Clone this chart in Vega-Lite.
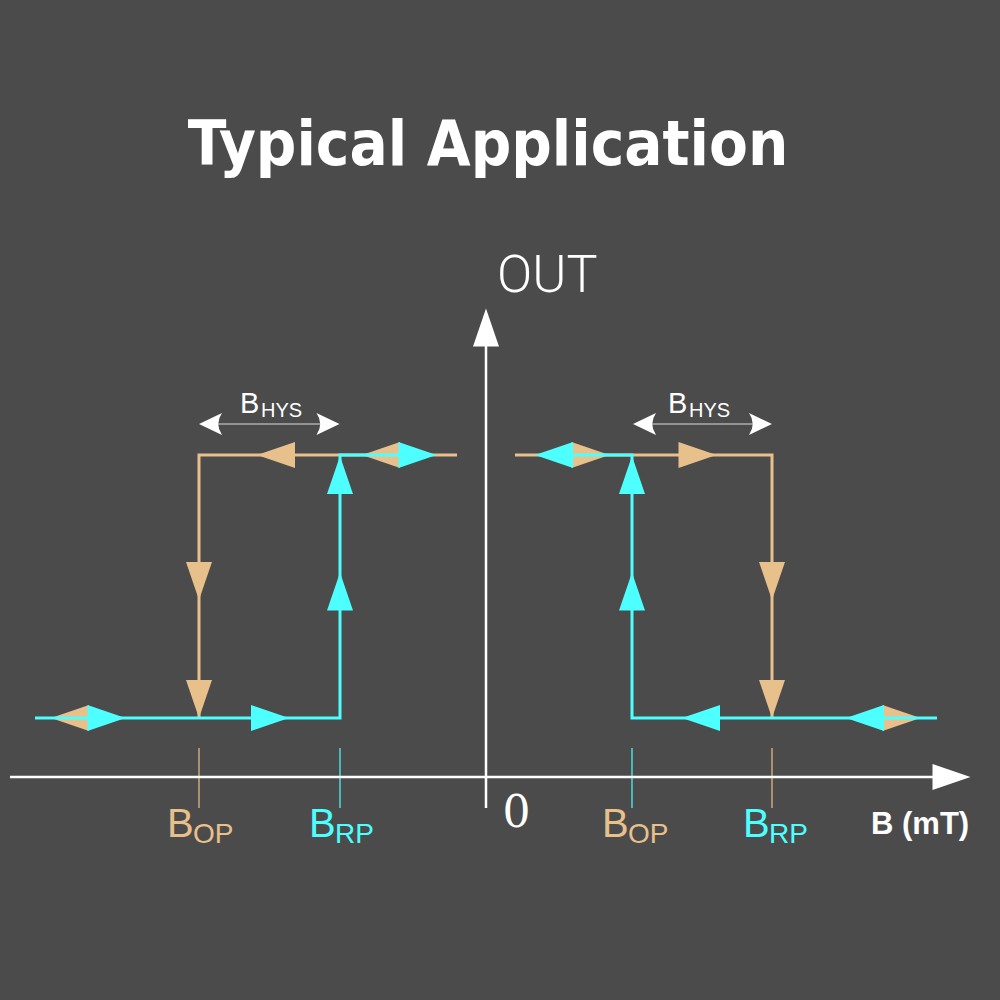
{
  "$schema": "https://vega.github.io/schema/vega-lite/v6.json",
  "width": 1000,
  "height": 1000,
  "padding": 0,
  "autosize": {"type": "fit", "contains": "padding"},
  "background": "#4b4b4b",
  "config": {"view": {"stroke": null}},
  "datasets": {
    "paths": [
      {"path": "axisX", "trace": "axis", "ord": 0, "x": 10, "y": 777},
      {"path": "axisX", "trace": "axis", "ord": 1, "x": 935, "y": 777},
      {"path": "axisY", "trace": "axis", "ord": 0, "x": 486, "y": 808},
      {"path": "axisY", "trace": "axis", "ord": 1, "x": 486, "y": 345},
      {"path": "L-fall", "trace": "falling", "ord": 0, "x": 457, "y": 455},
      {"path": "L-fall", "trace": "falling", "ord": 1, "x": 199, "y": 455},
      {"path": "L-fall", "trace": "falling", "ord": 2, "x": 199, "y": 718},
      {"path": "R-fall", "trace": "falling", "ord": 0, "x": 515, "y": 455},
      {"path": "R-fall", "trace": "falling", "ord": 1, "x": 772, "y": 455},
      {"path": "R-fall", "trace": "falling", "ord": 2, "x": 772, "y": 718},
      {"path": "L-rise", "trace": "rising", "ord": 0, "x": 35, "y": 718},
      {"path": "L-rise", "trace": "rising", "ord": 1, "x": 340, "y": 718},
      {"path": "L-rise", "trace": "rising", "ord": 2, "x": 340, "y": 455},
      {"path": "L-rise", "trace": "rising", "ord": 3, "x": 420, "y": 455},
      {"path": "R-rise", "trace": "rising", "ord": 0, "x": 937, "y": 718},
      {"path": "R-rise", "trace": "rising", "ord": 1, "x": 632, "y": 718},
      {"path": "R-rise", "trace": "rising", "ord": 2, "x": 632, "y": 455},
      {"path": "R-rise", "trace": "rising", "ord": 3, "x": 560, "y": 455}
    ],
    "ticks": [
      {"x": 199, "y": 748, "y2": 808, "trace": "falling"},
      {"x": 340, "y": 748, "y2": 808, "trace": "rising"},
      {"x": 632, "y": 748, "y2": 808, "trace": "rising"},
      {"x": 772, "y": 748, "y2": 808, "trace": "falling"}
    ],
    "dims": [
      {"x": 205, "x2": 335, "y": 424},
      {"x": 638, "x2": 768, "y": 424}
    ],
    "dimHeads": [
      {"x": 210.5, "y": 424, "dir": 180},
      {"x": 328, "y": 424, "dir": 0},
      {"x": 644.5, "y": 424, "dir": 180},
      {"x": 760.5, "y": 424, "dir": 0}
    ],
    "arrows": [
      {"x": 276, "y": 455, "dir": 180, "trace": "falling"},
      {"x": 381, "y": 455, "dir": 180, "trace": "falling"},
      {"x": 199, "y": 581, "dir": 90, "trace": "falling"},
      {"x": 199, "y": 699, "dir": 90, "trace": "falling"},
      {"x": 70, "y": 718, "dir": 180, "trace": "falling"},
      {"x": 590.5, "y": 455, "dir": 0, "trace": "falling"},
      {"x": 697.5, "y": 455, "dir": 0, "trace": "falling"},
      {"x": 772, "y": 581, "dir": 90, "trace": "falling"},
      {"x": 772, "y": 699, "dir": 90, "trace": "falling"},
      {"x": 901.5, "y": 718, "dir": 0, "trace": "falling"},
      {"x": 106.5, "y": 718, "dir": 0, "trace": "rising"},
      {"x": 270, "y": 718, "dir": 0, "trace": "rising"},
      {"x": 340, "y": 475, "dir": 270, "trace": "rising"},
      {"x": 340, "y": 591.5, "dir": 270, "trace": "rising"},
      {"x": 417.5, "y": 455, "dir": 0, "trace": "rising"},
      {"x": 554, "y": 455, "dir": 180, "trace": "rising"},
      {"x": 632, "y": 475, "dir": 270, "trace": "rising"},
      {"x": 632, "y": 591.5, "dir": 270, "trace": "rising"},
      {"x": 701, "y": 718, "dir": 180, "trace": "rising"},
      {"x": 865, "y": 718, "dir": 180, "trace": "rising"},
      {"x": 951.5, "y": 777, "dir": 0, "trace": "axis"},
      {"x": 486, "y": 327.5, "dir": 270, "trace": "axis"}
    ],
    "labelMain": [
      {"text": "B", "x": 167, "y": 837, "trace": "falling"},
      {"text": "B", "x": 309, "y": 837, "trace": "rising"},
      {"text": "B", "x": 602, "y": 837, "trace": "falling"},
      {"text": "B", "x": 743, "y": 837, "trace": "rising"}
    ],
    "labelSub": [
      {"text": "OP", "x": 193, "y": 843, "trace": "falling"},
      {"text": "RP", "x": 335, "y": 843, "trace": "rising"},
      {"text": "OP", "x": 628, "y": 843, "trace": "falling"},
      {"text": "RP", "x": 769, "y": 843, "trace": "rising"}
    ],
    "hysMain": [
      {"text": "B", "x": 240, "y": 413},
      {"text": "B", "x": 668, "y": 413}
    ],
    "hysSub": [
      {"text": "HYS", "x": 261, "y": 417},
      {"text": "HYS", "x": 689, "y": 417}
    ],
    "title": [{"text": "Typical Application", "x": 488, "y": 165}],
    "out": [{"text": "OUT", "x": 497, "y": 292}],
    "zero": [{"text": "0", "x": 516.5, "y": 827}],
    "bunit": [{"text": "B (mT)", "x": 871, "y": 834}]
  },
  "encoding": {
    "x": {"field": "x", "type": "quantitative", "scale": {"domain": [0, 1000], "nice": false, "zero": false}, "axis": null},
    "y": {"field": "y", "type": "quantitative", "scale": {"domain": [0, 1000], "nice": false, "zero": false, "reverse": true}, "axis": null}
  },
  "layer": [
    {
      "data": {"name": "ticks"},
      "mark": {"type": "rule", "strokeWidth": 1.2},
      "encoding": {
        "y2": {"field": "y2"},
        "color": {"field": "trace", "type": "nominal", "scale": {"domain": ["falling", "rising", "axis"], "range": ["#e8c08c", "#4dffff", "#ffffff"]}, "legend": null}
      }
    },
    {
      "data": {"name": "paths"},
      "transform": [{"filter": "datum.trace === 'axis'"}],
      "mark": {"type": "line", "strokeWidth": 2.5, "color": "#ffffff"},
      "encoding": {"detail": {"field": "path"}, "order": {"field": "ord", "type": "quantitative"}}
    },
    {
      "data": {"name": "paths"},
      "transform": [{"filter": "datum.trace === 'falling'"}],
      "mark": {"type": "line", "strokeWidth": 3, "strokeJoin": "miter"},
      "encoding": {
        "detail": {"field": "path"},
        "order": {"field": "ord", "type": "quantitative"},
        "color": {"field": "trace", "type": "nominal", "scale": {"domain": ["falling", "rising", "axis"], "range": ["#e8c08c", "#4dffff", "#ffffff"]}, "legend": null}
      }
    },
    {
      "data": {"name": "arrows"},
      "transform": [{"filter": "datum.trace === 'falling'"}],
      "mark": {"type": "point", "filled": true, "opacity": 1, "strokeWidth": 0, "size": 1444, "shape": "M 1 0 L -1 -0.684 L -1 0.684 Z"},
      "encoding": {
        "angle": {"field": "dir", "type": "quantitative", "scale": null},
        "color": {"field": "trace", "type": "nominal", "scale": {"domain": ["falling", "rising", "axis"], "range": ["#e8c08c", "#4dffff", "#ffffff"]}, "legend": null}
      }
    },
    {
      "data": {"name": "paths"},
      "transform": [{"filter": "datum.trace === 'rising'"}],
      "mark": {"type": "line", "strokeWidth": 3, "strokeJoin": "miter"},
      "encoding": {
        "detail": {"field": "path"},
        "order": {"field": "ord", "type": "quantitative"},
        "color": {"field": "trace", "type": "nominal", "scale": {"domain": ["falling", "rising", "axis"], "range": ["#e8c08c", "#4dffff", "#ffffff"]}, "legend": null}
      }
    },
    {
      "data": {"name": "arrows"},
      "transform": [{"filter": "datum.trace !== 'falling'"}],
      "mark": {"type": "point", "filled": true, "opacity": 1, "strokeWidth": 0, "size": 1444, "shape": "M 1 0 L -1 -0.684 L -1 0.684 Z"},
      "encoding": {
        "angle": {"field": "dir", "type": "quantitative", "scale": null},
        "color": {"field": "trace", "type": "nominal", "scale": {"domain": ["falling", "rising", "axis"], "range": ["#e8c08c", "#4dffff", "#ffffff"]}, "legend": null}
      }
    },
    {
      "data": {"name": "dims"},
      "mark": {"type": "rule", "strokeWidth": 1, "color": "#dddddd"},
      "encoding": {"x2": {"field": "x2"}}
    },
    {
      "data": {"name": "dimHeads"},
      "mark": {"type": "point", "filled": true, "opacity": 1, "strokeWidth": 0, "size": 529, "color": "#ffffff", "shape": "M 1 0 L -1 -0.95 Q -0.35 0 -1 0.95 Z"},
      "encoding": {"angle": {"field": "dir", "type": "quantitative", "scale": null}}
    },
    {
      "data": {"name": "title"},
      "mark": {"type": "text", "font": "DejaVu Sans Condensed", "fontWeight": "bold", "fontSize": 63, "color": "#ffffff", "align": "center", "baseline": "alphabetic"},
      "encoding": {"text": {"field": "text"}}
    },
    {
      "data": {"name": "out"},
      "mark": {"type": "text", "font": "Roboto", "fontWeight": 300, "fontSize": 52, "color": "#ffffff", "align": "left", "baseline": "alphabetic"},
      "encoding": {"text": {"field": "text"}}
    },
    {
      "data": {"name": "zero"},
      "mark": {"type": "text", "font": "DejaVu Serif", "fontSize": 44, "color": "#ffffff", "align": "center", "baseline": "alphabetic"},
      "encoding": {"text": {"field": "text"}}
    },
    {
      "data": {"name": "bunit"},
      "mark": {"type": "text", "font": "Liberation Sans", "fontWeight": "bold", "fontSize": 31, "color": "#ffffff", "align": "left", "baseline": "alphabetic"},
      "encoding": {"text": {"field": "text"}}
    },
    {
      "data": {"name": "labelMain"},
      "mark": {"type": "text", "font": "Liberation Sans", "fontSize": 40, "align": "left", "baseline": "alphabetic"},
      "encoding": {
        "text": {"field": "text"},
        "color": {"field": "trace", "type": "nominal", "scale": {"domain": ["falling", "rising", "axis"], "range": ["#e8c08c", "#4dffff", "#ffffff"]}, "legend": null}
      }
    },
    {
      "data": {"name": "labelSub"},
      "mark": {"type": "text", "font": "Liberation Sans", "fontSize": 28, "align": "left", "baseline": "alphabetic"},
      "encoding": {
        "text": {"field": "text"},
        "color": {"field": "trace", "type": "nominal", "scale": {"domain": ["falling", "rising", "axis"], "range": ["#e8c08c", "#4dffff", "#ffffff"]}, "legend": null}
      }
    },
    {
      "data": {"name": "hysMain"},
      "mark": {"type": "text", "font": "Liberation Sans", "fontSize": 29, "color": "#ffffff", "align": "left", "baseline": "alphabetic"},
      "encoding": {"text": {"field": "text"}}
    },
    {
      "data": {"name": "hysSub"},
      "mark": {"type": "text", "font": "Liberation Sans", "fontSize": 20, "color": "#ffffff", "align": "left", "baseline": "alphabetic"},
      "encoding": {"text": {"field": "text"}}
    }
  ]
}
